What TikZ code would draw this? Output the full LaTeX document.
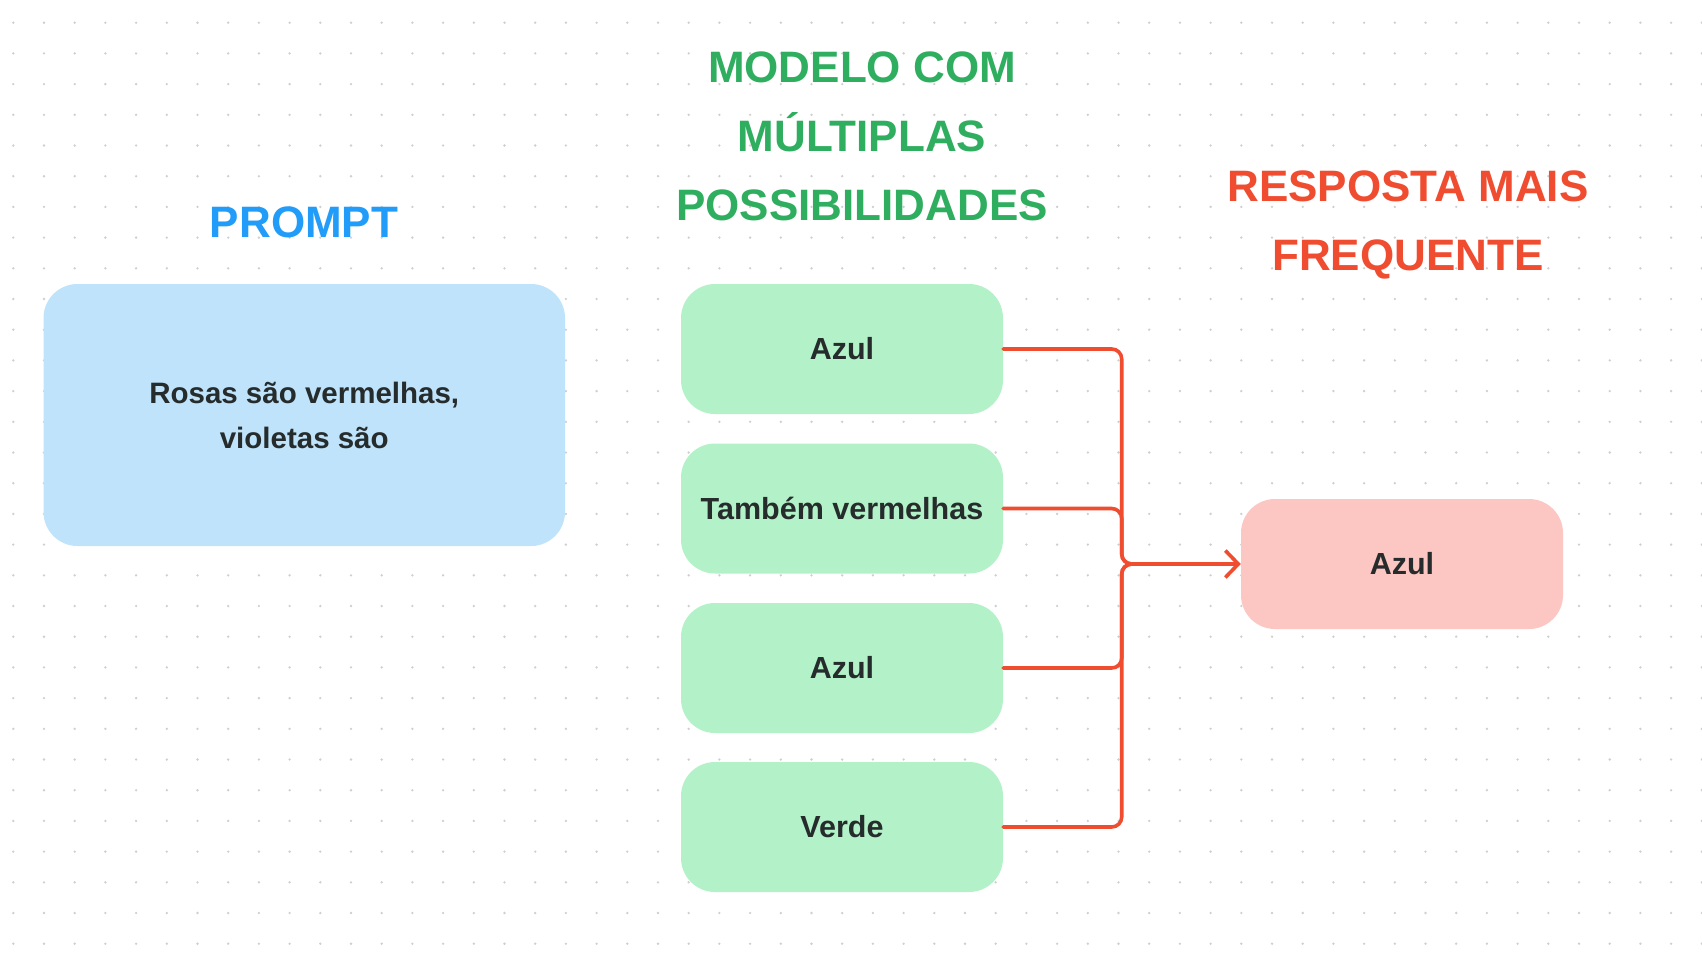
\documentclass[tikz,border=0pt]{standalone}
\usepackage{fontspec}
\setmainfont{Liberation Sans}
\usetikzlibrary{arrows.meta}
\definecolor{dotc}{HTML}{CFCFCF}
\definecolor{blueT}{HTML}{229CF9}
\definecolor{blueBox}{HTML}{BEE3FB}
\definecolor{greenT}{HTML}{2FAE5F}
\definecolor{greenBox}{HTML}{B3F2C8}
\definecolor{redT}{HTML}{EF4C30}
\definecolor{pinkBox}{HTML}{FCC7C3}
\definecolor{txtdark}{HTML}{262B2C}
\begin{document}
\begin{tikzpicture}[x=1pt,y=-1pt,
  card/.style={rounded corners=34pt, inner sep=0pt, minimum width=322pt, minimum height=130pt,
    font=\fontsize{30.5}{36}\selectfont\bfseries, text=txtdark, align=center},
  head/.style={font=\fontsize{44}{69}\selectfont\bfseries, align=center, inner sep=0pt},
  conn/.style={draw=redT, line width=3.6pt, rounded corners=10pt, line cap=round}]
\fill[white] (0,0) rectangle (1702,962);
\useasboundingbox (0,0) rectangle (1702,962);
\foreach \i in {0,...,55}{
  \foreach \j in {0,...,30}{
    \fill[dotc] (13.3+30.7*\i, 22.7+30.7*\j) circle (1.3);
  }
}
% titles
\node[head, text=blueT] (tprompt) at (304,222) {PROMPT};
\node[head, text=greenT] (tmodel) at (862,136) {MODELO COM\\MÚLTIPLAS\\POSSIBILIDADES};
\node[head, text=redT] (tresp) at (1408,225) {RESPOSTA MAIS\\FREQUENTE};
% prompt box
\node[card, fill=blueBox, minimum width=521.5pt, minimum height=262pt,
  font=\fontsize{29.5}{45}\selectfont\bfseries] (prompt) at (304.25,415)
  {Rosas são vermelhas,\\violetas são};
% option boxes
\node[card, fill=greenBox] (g1) at (842,349) {Azul};
\node[card, fill=greenBox] (g2) at (842,508.5) {Também vermelhas};
\node[card, fill=greenBox] (g3) at (842,668) {Azul};
\node[card, fill=greenBox] (g4) at (842,827) {Verde};
% answer box
\node[card, fill=pinkBox] (ans) at (1402,564) {Azul};
% connectors
\coordinate (j) at (1121.7,564);
\coordinate (j2) at (1160,564);
\draw[conn] (g1.east) -| (j) -- (j2);
\draw[conn] (g2.east) -| (j) -- (j2);
\draw[conn] (g3.east) -| (j) -- (j2);
\draw[conn] (g4.east) -| (j) -- (j2);
\draw[conn, -{Straight Barb[length=13pt,width=27pt]}] (j2) -- (ans.west);
\end{tikzpicture}
\end{document}
